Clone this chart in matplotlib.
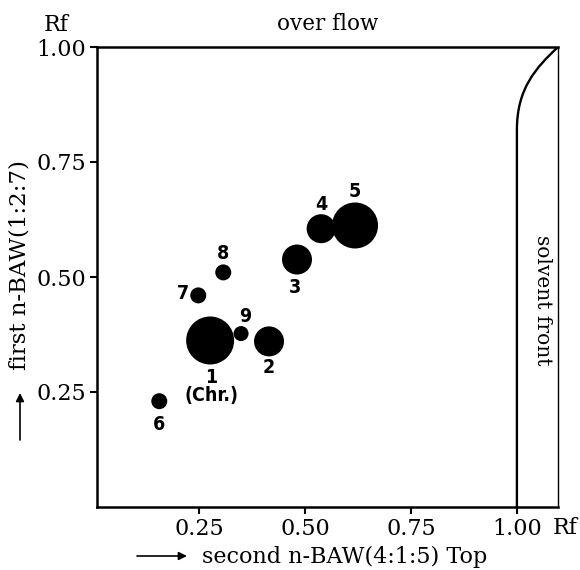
import matplotlib
matplotlib.use('Agg')

import matplotlib.pyplot as plt
from matplotlib.path import Path
import matplotlib.patches as mpatches

# spot data
spot_labels = ['1\n(Chr.)', '2', '3', '4', '5', '6', '7', '8', '9']
rf_second = [0.276, 0.415, 0.481, 0.538, 0.618, 0.156, 0.248, 0.307, 0.349]
rf_first = [0.362, 0.360, 0.538, 0.605, 0.612, 0.230, 0.460, 0.510, 0.377]
spot_radius = [24, 15, 15, 14.5, 23, 8, 8, 8, 7.5]   # spot radius, px

# solvent front: vertical at Rf 1.00, bending into the top right corner
front_x = [1.0, 1.0, 1.0, 1.045, 1.097]
front_y = [0.0, 0.82, 0.91, 0.955, 1.0]

ticks = [0.25, 0.50, 0.75, 1.00]
tick_labels = ['0.25', '0.50', '0.75', '1.00']

# label offsets (px) from each spot centre
label_offsets = [(1, -46), (0, -26), (-2, -28), (0, 24), (0, 34),
                 (0, -23), (-15, 2), (0, 19), (4, 17)]

DPI = 100
serif = 'DejaVu Serif'

fig = plt.figure(figsize=(5.8, 5.7), dpi=DPI)
ax = fig.add_axes([97 / 580, 1 - 507 / 570, 461 / 580, 460 / 570])

# spots: radius in px -> marker area in points^2
sizes = [(2 * r * 72 / DPI) ** 2 for r in spot_radius]
ax.scatter(rf_second, rf_first, s=sizes, color='black', edgecolors='none', zorder=3)

for lab, x, y, off in zip(spot_labels, rf_second, rf_first, label_offsets):
    ax.annotate(lab, xy=(x, y), xytext=off, textcoords='offset pixels',
                ha='center', va='center', fontsize=14, fontweight='bold',
                family='DejaVu Sans', fontstretch='condensed', linespacing=0.95)

# straight part plus one cubic bend
verts = list(zip(front_x, front_y))
codes = [Path.MOVETO, Path.LINETO, Path.CURVE4, Path.CURVE4, Path.CURVE4]
ax.add_patch(mpatches.PathPatch(Path(verts, codes), fill=False,
                                edgecolor='black', linewidth=1.7))

ax.set_xlim(0.009, 1.097)
ax.set_ylim(0.0, 1.0)
ax.set_xticks(ticks)
ax.set_xticklabels(tick_labels)
ax.set_yticks(ticks)
ax.set_yticklabels(tick_labels)
for lab in ax.get_xticklabels() + ax.get_yticklabels():
    lab.set_fontfamily(serif)
    lab.set_fontsize(16)
ax.tick_params(direction='out', length=5, width=1.5, pad=3)

for side in ['left', 'top', 'bottom']:
    ax.spines[side].set_linewidth(1.8)
ax.spines['right'].set_linewidth(1.0)

# texts around the frame
ax.text(0.5, 1.025, 'over flow', transform=ax.transAxes, ha='center', va='bottom',
        fontsize=15.5, family=serif)
ax.text(1.06, 0.45, 'solvent front', rotation=-90, ha='center', va='center',
        fontsize=14.5, family=serif)
ax.annotate('Rf', xy=(0, 1.0), xycoords=('axes fraction', 'data'),
            xytext=(-41, 22), textcoords='offset pixels',
            ha='center', va='center', fontsize=16, family=serif)
ax.annotate('Rf', xy=(1.0, 0), xycoords=('data', 'axes fraction'),
            xytext=(48, -21), textcoords='offset pixels',
            ha='center', va='center', fontsize=16, family=serif)

# axis titles with the direction arrows
fig.text(345 / 580, 1 - 557 / 570, 'second n-BAW(4:1:5) Top', ha='center',
         va='center', fontsize=16, family=serif)
fig.text(20 / 580, 1 - 265 / 570, 'first n-BAW(1:2:7)', rotation=90,
         ha='center', va='center', fontsize=16.5, family=serif)
for start, end in [((137, 556), (187, 556)), ((20, 440), (20, 393))]:
    fig.add_artist(mpatches.FancyArrowPatch(
        (start[0] / 580, 1 - start[1] / 570), (end[0] / 580, 1 - end[1] / 570),
        transform=fig.transFigure, arrowstyle='-|>', mutation_scale=12,
        lw=1.2, color='black', shrinkA=0, shrinkB=0))

plt.savefig('out.png', dpi=DPI)
plt.close()
